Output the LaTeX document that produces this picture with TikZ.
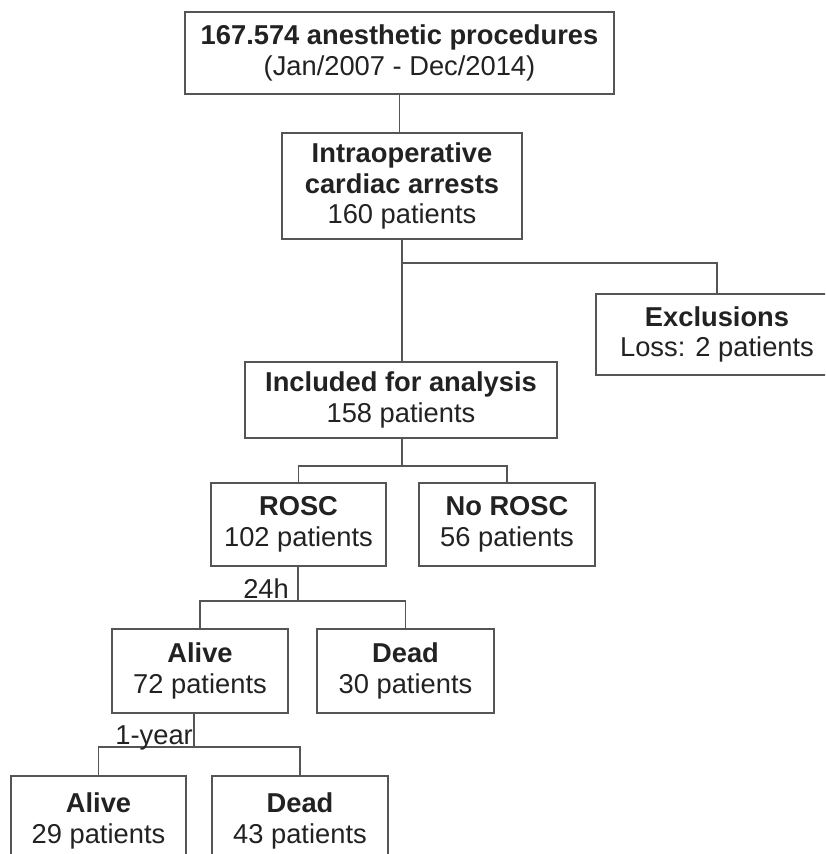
\documentclass[tikz,border=0pt]{standalone}
\usepackage{fontspec}
\setmainfont{Liberation Sans}
\definecolor{txt}{HTML}{222222}
\definecolor{ln}{HTML}{555555}
\begin{document}
\begin{tikzpicture}[x=1pt,y=-1pt,
  box/.style={draw=ln, line width=1.3pt, rectangle, inner sep=0pt, align=center,
    text=txt, font=\fontsize{27.3}{30.5}\selectfont},
  conn/.style={draw=ln, line width=1.3pt},
  lbl/.style={inner sep=0pt, text=txt, font=\fontsize{27.3}{30}\selectfont, anchor=base east}]
\fill[white] (0,0) rectangle (825,854);
\useasboundingbox (0,0) rectangle (825,854);
\clip (0,0) rectangle (825,854);

\node[box, minimum width=429pt, minimum height=82pt] (top) at (399.5,53)
  {\textbf{167.574 anesthetic procedures}\\(Jan/2007 - Dec/2014)};
\node[box, minimum width=240pt, minimum height=106pt] (ica) at (402,186)
  {\textbf{Intraoperative}\\\textbf{cardiac arrests}\\160 patients};
\node[box, minimum width=242pt, minimum height=81pt] (excl) at (717,334.5)
  {\textbf{Exclusions}\\Loss: 2 patients};
\node[box, minimum width=312pt, minimum height=76pt] (incl) at (401,400)
  {\textbf{Included for analysis}\\158 patients};
\node[box, minimum width=175pt, minimum height=83pt] (rosc) at (298.5,524.5)
  {\textbf{ROSC}\\102 patients};
\node[box, minimum width=176pt, minimum height=83pt] (norosc) at (507,524.5)
  {\textbf{No ROSC}\\56 patients};
\node[box, minimum width=176pt, minimum height=84pt] (alive) at (200,671)
  {\textbf{Alive}\\72 patients};
\node[box, minimum width=177pt, minimum height=84pt] (dead) at (405.5,671)
  {\textbf{Dead}\\30 patients};
\node[box, minimum width=175pt, minimum height=90pt] (alive2) at (98.5,821)
  {\textbf{Alive}\\29 patients};
\node[box, minimum width=176pt, minimum height=90pt] (dead2) at (300,821)
  {\textbf{Dead}\\43 patients};

% connectors
\draw[conn] (top.south) -- (top.south |- ica.north);
\coordinate (b1) at (402,263);
\draw[conn] (ica.south -| b1) -- (incl.north -| b1);
\draw[conn] (b1) -| (excl.north);

\coordinate (b2) at (402,466);
\draw[conn] (incl.south -| b2) -- (b2);
\draw[conn] (b2) -- (b2 -| rosc.north) -- (rosc.north);
\draw[conn] (b2) -- (b2 -| norosc.north) -- (norosc.north);

\coordinate (b3) at (298,601);
\draw[conn] (rosc.south -| b3) -- (b3);
\draw[conn] (b3) -- (b3 -| alive.north) -- (alive.north);
\draw[conn] (b3) -- (b3 -| dead.north) -- (dead.north);
\node[lbl] (l24) at (289,598) {24h};

\coordinate (b4) at (194,747);
\draw[conn] (alive.south -| b4) -- (b4);
\draw[conn] (b4) -- (b4 -| alive2.north) -- (alive2.north);
\draw[conn] (b4) -- (b4 -| dead2.north) -- (dead2.north);
\node[lbl] (l1y) at (193,744) {1-year};
\end{tikzpicture}
\end{document}
